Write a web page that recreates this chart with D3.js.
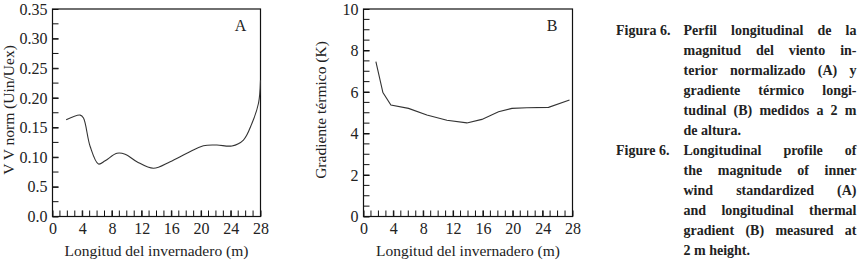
<!DOCTYPE html>
<html>
<head>
<meta charset="utf-8">
<script src="https://cdn.jsdelivr.net/npm/d3@7"></script>
<style>
	body { margin: 0; background: #fff; }
	svg { display: block; }
</style>
</head>
<body>
<script>
// Panel A: normalised wind magnitude along the greenhouse
const distA = [1.84, 3.73, 4.17, 5.07, 6.19, 7.09, 8.67, 9.78, 11.36, 13.59, 15.84, 18.09, 20.32, 22.13, 24.15, 25.7, 26.84, 27.73, 28.0];
const windA = [0.163, 0.171, 0.166, 0.118, 0.0885, 0.094, 0.1066, 0.105, 0.0924, 0.0813, 0.0924, 0.1066, 0.1194, 0.1206, 0.119, 0.129, 0.157, 0.191, 0.230];

// Panel B: thermal gradient along the greenhouse
const distB = [1.66, 2.6, 3.67, 6.03, 8.49, 11.17, 13.85, 15.86, 18.09, 19.88, 21.89, 24.79, 27.6];
const gradB = [7.46, 5.97, 5.37, 5.21, 4.89, 4.64, 4.51, 4.68, 5.05, 5.21, 5.24, 5.26, 5.61];

const xTicks = [0, 4, 8, 12, 16, 20, 24, 28];
const yTicksA = [0, 0.05, 0.10, 0.15, 0.20, 0.25, 0.30, 0.35];
const yTickLabelsA = ["0.0", "0.5", "0.10", "0.15", "0.20", "0.25", "0.30", "0.35"];
const yTicksB = [0, 2, 4, 6, 8, 10];

const captionEs = ["Perfil longitudinal de la", "magnitud  del viento in-", "terior normalizado  (A) y", "gradiente térmico longi-", "tudinal (B) medidos a 2 m", "de altura."];
const captionEn = ["Longitudinal  profile  of", "the magnitude of inner", "wind  standardized  (A)", "and longitudinal thermal", "gradient (B) measured at", "2 m height."];

const FONT = "'Liberation Serif', 'DejaVu Serif', serif";
const W = 860, H = 265;
const svg = d3.select("body").append("svg").attr("width", W).attr("height", H)
	.style("font-family", FONT);

function label(sel, size = "15.5px") {
	return sel.style("font-family", FONT).attr("font-size", size).attr("fill", "#222");
}

function panel(o) {
	const g = svg.append("g").attr("transform", `translate(${o.left},9)`);
	const w = o.width, h = 207.5;
	const x = d3.scaleLinear().domain([0, 28]).range([0, w]);
	const y = d3.scaleLinear().domain(o.yDomain).range([h, 0]);

	// y axis, ticks inward
	const yAxis = g.append("g")
		.call(d3.axisLeft(y).tickValues(o.yTicks).tickSize(-6).tickPadding(5)
			.tickFormat((d, i) => o.yLabels[i]));
	yAxis.select(".domain").remove();
	yAxis.selectAll("line").attr("stroke", "#111");
	label(yAxis.selectAll("text"), "16px");
	g.append("g").selectAll("line")
		.data(d3.range(o.yDomain[0], o.yDomain[1], o.yMinor))
		.join("line")
		.attr("x1", 0).attr("x2", 6)
		.attr("y1", d => y(d)).attr("y2", d => y(d))
		.attr("stroke", "#111");

	// x axis, ticks inward every metre
	const xAxis = g.append("g").attr("transform", `translate(0,${h})`)
		.call(d3.axisBottom(x).tickValues(xTicks).tickSize(-6).tickPadding(6).tickFormat(d3.format("d")));
	xAxis.select(".domain").remove();
	xAxis.selectAll("line").attr("stroke", "#111");
	label(xAxis.selectAll("text"), "16px");
	g.append("g").selectAll("line")
		.data(d3.range(1, 28))
		.join("line")
		.attr("x1", d => x(d)).attr("x2", d => x(d))
		.attr("y1", h).attr("y2", h - 6)
		.attr("stroke", "#111");

	// frame
	g.append("rect").attr("width", w).attr("height", h)
		.attr("fill", "none").attr("stroke", "#111").attr("stroke-width", 1.2);

	// series line
	g.append("path")
		.datum(d3.zip(o.xs, o.ys))
		.attr("fill", "none")
		.attr("stroke", "#333")
		.attr("stroke-width", 1.1)
		.attr("d", d3.line().x(d => x(d[0])).y(d => y(d[1])).curve(o.curve));

	label(g.append("text"), "16px").attr("x", o.letterX).attr("y", 22)
		.attr("text-anchor", "middle").text(o.letter);

	// titles
	label(g.append("text")).attr("x", w / 2).attr("y", 247)
		.attr("text-anchor", "middle")
		.text("Longitud del invernadero (m)");
	label(g.append("text"))
		.attr("transform", `translate(${o.yTitleX},101) rotate(-90)`)
		.attr("text-anchor", "middle")
		.text(o.yTitle);
}

panel({
	left: 52.5, width: 208, xs: distA, ys: windA, yDomain: [0, 0.35],
	yTicks: yTicksA, yLabels: yTickLabelsA, yMinor: 0.025,
	curve: d3.curveCatmullRom.alpha(0.5), letter: "A", letterX: 188,
	yTitle: "V V norm (Uin/Uex)", yTitleX: -38.5
});
panel({
	left: 363.5, width: 209, xs: distB, ys: gradB, yDomain: [0, 10],
	yTicks: yTicksB, yLabels: yTicksB.map(String), yMinor: 0.5,
	curve: d3.curveLinear, letter: "B", letterX: 188.5,
	yTitle: "Gradiente térmico (K)", yTitleX: -37.5
});

// caption, justified line by line
const cap = svg.append("g").attr("font-weight", "bold").attr("font-size", "14px")
	.attr("fill", "#222").style("font-family", FONT);
const bodyL = 683.5, bodyR = 856.5;

function paragraph(head, lines, y0) {
	cap.append("text").attr("x", 616).attr("y", y0).text(head);
	lines.forEach((line, i) => {
		const y = y0 + i * 20;
		const words = line.split(/\s+/);
		const last = i === lines.length - 1;
		const ts = words.map(wd => cap.append("text").attr("y", y).text(wd));
		const widths = ts.map(t => t.node().getComputedTextLength());
		const gap = last ? 3.5 : (bodyR - bodyL - d3.sum(widths)) / (words.length - 1);
		let cx = bodyL;
		ts.forEach((t, j) => { t.attr("x", cx); cx += widths[j] + gap; });
	});
}
paragraph("Figura 6.", captionEs, 35);
paragraph("Figure 6.", captionEn, 155);
</script>
</body>
</html>
